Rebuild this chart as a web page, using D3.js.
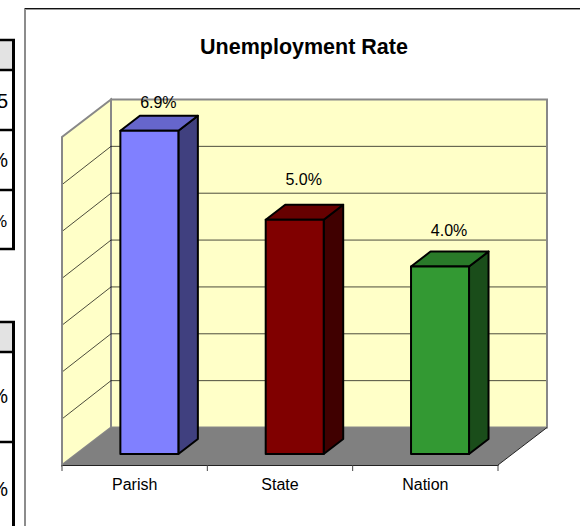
<!DOCTYPE html>
<html>
<head>
<meta charset="utf-8">
<script src="https://cdn.jsdelivr.net/npm/d3@7"></script>
<style>
body { margin: 0; background: #fff; overflow: hidden; }
svg { display: block; }
text { font-family: "Liberation Sans", Arial, sans-serif; fill: #000; }
</style>
</head>
<body>
<div id="chart"></div>
<script>
const categories = ["Parish", "State", "Nation"];
const rates = [6.9, 5.0, 4.0];
const gridTicks = [1, 2, 3, 4, 5, 6];
const frontColors = ["#8080ff", "#800000", "#339933"];
const topColors = ["#6666cc", "#660000", "#297a29"];
const sideColors = ["#40407f", "#400000", "#1a4d1a"];

// bits of the neighbouring tables that are cut off at the left edge
const tableRows = [[40, 70, 130, 190, 249], [322, 352, 442, 530]];
const tableText = [
    { t: "5", y: 108, size: 20, x: 8 },
    { t: "%", y: 167, size: 20, x: 8 },
    { t: "%", y: 227, size: 17, x: 7 },
    { t: "%", y: 403, size: 20, x: 8 },
    { t: "%", y: 496, size: 20, x: 8 }
];

const width = 580, height = 526;
const depth = { x: 49, y: 37.5 };
const barDepth = { x: 19.5, y: 15 };

const svg = d3.select("#chart")
    .append("svg")
    .attr("width", width)
    .attr("height", height);

// chart frame
svg.append("line")
    .attr("x1", 25).attr("x2", 25).attr("y1", 8).attr("y2", 526)
    .attr("stroke", "#666")
    .attr("stroke-width", 1.5);
svg.append("line")
    .attr("x1", 25).attr("x2", 580).attr("y1", 8.5).attr("y2", 8.5)
    .attr("stroke", "#111");
svg.append("line")
    .attr("x1", 25).attr("x2", 580).attr("y1", 9.5).attr("y2", 9.5)
    .attr("stroke", "#999");

// left tables
tableRows.forEach((rows) => {
    svg.append("rect")
        .attr("x", 0).attr("y", rows[0])
        .attr("width", 13).attr("height", rows[1] - rows[0])
        .attr("fill", "#e3e3e3");
    svg.selectAll(null)
        .data(rows)
        .enter()
        .append("line")
        .attr("x1", 0).attr("x2", 15)
        .attr("y1", (d) => d).attr("y2", (d) => d)
        .attr("stroke", "#000")
        .attr("stroke-width", 2.5);
    svg.append("line")
        .attr("x1", 13.5).attr("x2", 13.5)
        .attr("y1", rows[0] - 1).attr("y2", rows[rows.length - 1] + 1)
        .attr("stroke", "#000")
        .attr("stroke-width", 3);
});
svg.selectAll(null)
    .data(tableText)
    .enter()
    .append("text")
    .attr("x", (d) => d.x)
    .attr("y", (d) => d.y)
    .attr("text-anchor", "end")
    .attr("font-size", (d) => d.size)
    .attr("fill", "#222")
    .text((d) => d.t);

// scales
const xScale = d3.scaleBand()
    .domain(categories)
    .range([62, 498]);

const yScale = d3.scaleLinear()
    .domain([0, 7])
    .range([465, 137]);

const x0 = xScale.range()[0], x1 = xScale.range()[1];
const yBase = yScale(0), yTop = yScale(7);
const poly = (pts) => pts.map((p) => p.join(",")).join(" ");

// back wall
svg.append("rect")
    .attr("x", x0 + depth.x).attr("y", yTop - depth.y)
    .attr("width", x1 - x0).attr("height", yBase - yTop)
    .attr("fill", "#ffffc8")
    .attr("stroke", "#888")
    .attr("stroke-width", 2);

// side wall
svg.append("polygon")
    .attr("points", poly([[x0, yBase], [x0 + depth.x, yBase - depth.y], [x0 + depth.x, yTop - depth.y], [x0, yTop]]))
    .attr("fill", "#ffffc8")
    .attr("stroke", "#888")
    .attr("stroke-width", 2);

// floor
svg.append("polygon")
    .attr("points", poly([[x0, yBase], [x1, yBase], [x1 + depth.x, yBase - depth.y], [x0 + depth.x, yBase - depth.y]]))
    .attr("fill", "#808080");

// gridlines, wall and back
const grid = svg.append("g").attr("fill", "none").attr("stroke", "#000").attr("stroke-opacity", 0.7);
grid.selectAll("polyline")
    .data(gridTicks)
    .enter()
    .append("polyline")
    .attr("points", (d) => poly([
        [x0 + 1, yScale(d)],
        [x0 + depth.x, yScale(d) - depth.y],
        [x1 + depth.x - 1, yScale(d) - depth.y]
    ]));

// axis
const xAxis = d3.axisBottom(xScale).tickSize(0).tickPadding(14);
const axisG = svg.append("g")
    .attr("transform", `translate(0,${yBase})`)
    .call(xAxis)
    .attr("font-size", 16)
    .attr("font-family", "Liberation Sans");
axisG.select(".domain").attr("stroke", "#222").attr("stroke-width", 1.2);
axisG.selectAll("text").attr("fill", "#111");
axisG.selectAll(".sep")
    .data(d3.range(0, categories.length + 1))
    .enter()
    .append("line")
    .attr("class", "sep")
    .attr("x1", (d) => x0 + d * xScale.step())
    .attr("x2", (d) => x0 + d * xScale.step())
    .attr("y1", 0).attr("y2", 6)
    .attr("stroke", "#444");

// front right edge of the floor
svg.append("line")
    .attr("x1", x1).attr("y1", yBase)
    .attr("x2", x1 + depth.x).attr("y2", yBase - depth.y)
    .attr("stroke", "#222");

// bars
const barWidth = 58;
const barLeft = (d) => xScale(d) + xScale.step() / 2 + depth.x * 0.3 - barWidth / 2;
const barBase = yScale(0) - 11;

const bars = svg.selectAll(".bar")
    .data(categories)
    .enter()
    .append("g")
    .attr("class", "bar")
    .attr("stroke", "#000")
    .attr("stroke-width", 2)
    .attr("stroke-linejoin", "round");

const barTop = (i) => barBase - (yBase - yScale(rates[i]));

bars.append("polygon")
    .attr("points", (d, i) => poly([
        [barLeft(d) + barWidth, barBase],
        [barLeft(d) + barWidth + barDepth.x, barBase - barDepth.y],
        [barLeft(d) + barWidth + barDepth.x, barTop(i) - barDepth.y],
        [barLeft(d) + barWidth, barTop(i)]
    ]))
    .attr("fill", (d, i) => sideColors[i]);

bars.append("polygon")
    .attr("points", (d, i) => poly([
        [barLeft(d), barTop(i)],
        [barLeft(d) + barDepth.x, barTop(i) - barDepth.y],
        [barLeft(d) + barWidth + barDepth.x, barTop(i) - barDepth.y],
        [barLeft(d) + barWidth, barTop(i)]
    ]))
    .attr("fill", (d, i) => topColors[i]);

bars.append("rect")
    .attr("x", (d) => barLeft(d))
    .attr("y", (d, i) => barTop(i))
    .attr("width", barWidth)
    .attr("height", (d, i) => barBase - barTop(i))
    .attr("fill", (d, i) => frontColors[i]);

// value labels were placed by hand in the original, each sits a bit differently
const labelGap = [23, 35, 31];
svg.selectAll(".val")
    .data(categories)
    .enter()
    .append("text")
    .attr("class", "val")
    .attr("x", (d) => barLeft(d) + barWidth / 2 + 9)
    .attr("y", (d, i) => barTop(i) - labelGap[i])
    .attr("text-anchor", "middle")
    .attr("font-size", 16)
    .attr("fill", "#222")
    .text((d, i) => rates[i].toFixed(1) + "%");

// title
svg.append("text")
    .attr("x", 304)
    .attr("y", 54)
    .attr("text-anchor", "middle")
    .attr("font-size", 21.5)
    .attr("font-weight", "bold")
    .text("Unemployment Rate");
</script>
</body>
</html>
